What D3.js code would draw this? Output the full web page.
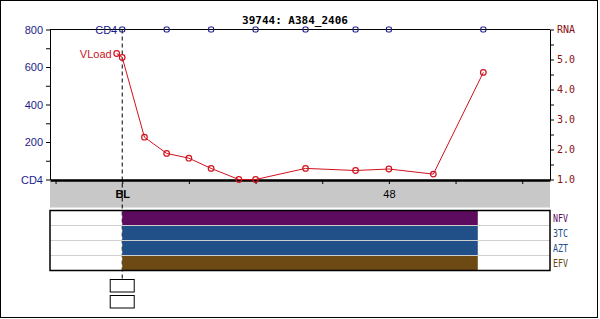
<!DOCTYPE html>
<html>
<head>
<meta charset="utf-8">
<script src="https://cdn.jsdelivr.net/npm/d3@7"></script>
<style>
  body { margin: 0; background: #fff; }
  text { font-family: "Liberation Sans", Arial, sans-serif; }
</style>
</head>
<body>
<div id="chart"></div>
<script>
// data (weeks from baseline)
const title = '39744: A384_2406'
const xTicks = [-12, 0, 12, 24, 36, 48, 60, 72]
const xTickLabels = {0: 'BL', 48: '48'}

const cd4Weeks = [0, 8, 16, 24, 33, 42, 48, 65]
const cd4Values = [800, 800, 800, 800, 800, 800, 800, 800]

const vlWeeks = [-1, 0, 4, 8, 12, 16, 21, 24, 33, 42, 48, 56, 65]
const vlValues = [5.2, 5.07, 2.41, 1.87, 1.71, 1.37, 1.0, 0.98, 1.37, 1.3, 1.35, 1.18, 4.57]

const drugNames = ['NFV', '3TC', 'AZT', 'EFV']
const drugStart = [0, 0, 0, 0]
const drugEnd = [64, 64, 64, 64]
const drugColors = ['#5c0b5e', '#214f87', '#214f87', '#6d4913']

const width = 600, height = 319
const plot = {left: 50, right: 550, top: 29.5, bottom: 179.5}

const svg = d3.select('#chart').append('svg')
    .attr('width', width)
    .attr('height', height)

// outer frame
svg.append('rect')
    .attr('x', 0.5).attr('y', 0.5)
    .attr('width', 597).attr('height', 317)
    .attr('fill', 'none').attr('stroke', '#000')

const x = d3.scaleLinear().domain([-13, 77]).range([plot.left, plot.right])
const yCd4 = d3.scaleLinear().domain([0, 800]).range([plot.bottom, plot.top])
const yRna = d3.scaleLinear().domain([1, 6]).range([plot.bottom, plot.top])

// title
svg.append('text')
    .attr('x', 295).attr('y', 24)
    .attr('text-anchor', 'middle')
    .style('font-family', '"DejaVu Sans Mono", monospace')
    .style('font-weight', 'bold')
    .style('font-size', '11px')
    .text(title)

// grey band under the x axis
svg.append('rect')
    .attr('x', plot.left).attr('y', plot.bottom)
    .attr('width', plot.right - plot.left).attr('height', 28)
    .attr('fill', '#c8c8c8')

// top frame line
svg.append('line')
    .attr('x1', plot.left).attr('x2', plot.right)
    .attr('y1', plot.top).attr('y2', plot.top)
    .attr('stroke', '#000')

// left axis (CD4)
const leftAxis = svg.append('g')
    .attr('transform', `translate(${plot.left},0)`)
    .call(d3.axisLeft(yCd4)
        .tickValues(d3.range(0, 801, 100))
        .tickSize(4).tickSizeOuter(0).tickPadding(3)
        .tickFormat(d => d % 200 ? '' : (d === 0 ? 'CD4' : d)))
leftAxis.select('.domain').attr('stroke', '#000')
leftAxis.selectAll('text')
    .attr('fill', '#1c1c8c')
    .style('font-family', '"Liberation Sans", Arial, sans-serif')
    .style('font-size', '11px')

// right axis (RNA)
const rightAxis = svg.append('g')
    .attr('transform', `translate(${plot.right},0)`)
    .call(d3.axisRight(yRna)
        .tickValues(d3.range(1, 6.01, 0.5))
        .tickSize(4).tickSizeOuter(0).tickPadding(3)
        .tickFormat(d => Number.isInteger(d) ? (d === 6 ? 'RNA' : d.toFixed(1)) : ''))
rightAxis.selectAll('text')
    .attr('fill', '#8a1010')
    .style('font-family', '"DejaVu Sans Mono", monospace')
    .style('font-size', '10px')

// bottom axis
const bottomAxis = svg.append('g')
    .attr('transform', `translate(0,${plot.bottom + 0.5})`)
    .call(d3.axisBottom(x)
        .tickValues(xTicks)
        .tickSize(4).tickPadding(6)
        .tickSizeOuter(0)
        .tickFormat(d => xTickLabels[d] || ''))
bottomAxis.select('.domain').attr('stroke-width', 2.5)
bottomAxis.selectAll('text')
    .attr('fill', '#000')
    .style('font-family', '"Liberation Sans", Arial, sans-serif')
    .style('font-size', '11px')
    .style('font-weight', d => d === 0 ? 'bold' : 'normal')

// baseline marker
svg.append('line')
    .attr('x1', x(0)).attr('x2', x(0))
    .attr('y1', plot.top).attr('y2', 279)
    .attr('stroke', '#000')
    .attr('stroke-dasharray', '4,3')

// viral load line
const vlData = vlWeeks.map((w, i) => ({x: w, y: vlValues[i]}))
const line = d3.line()
    .x(d => x(d.x))
    .y(d => yRna(Math.max(d.y, 1)))

svg.append('path')
    .datum(vlData)
    .attr('d', line)
    .attr('fill', 'none')
    .attr('stroke', '#d0121e')
    .attr('stroke-width', 1)

svg.selectAll('.vl-point')
    .data(vlData)
    .join('circle')
    .attr('class', 'vl-point')
    .attr('cx', d => x(d.x))
    .attr('cy', d => yRna(Math.max(d.y, 1)))
    .attr('r', 2.8)
    .attr('fill', 'none')
    .attr('stroke', '#d0121e')
    .attr('stroke-width', 1.2)

svg.append('text')
    .attr('x', x(vlWeeks[0]) - 5)
    .attr('y', yRna(vlValues[0]) + 4)
    .attr('text-anchor', 'end')
    .attr('fill', '#c8141e')
    .style('font-size', '11px')
    .text('VLoad')

// CD4 points
const cd4Data = cd4Weeks.map((w, i) => ({x: w, y: cd4Values[i]}))
svg.selectAll('.cd4-point')
    .data(cd4Data)
    .join('rect')
    .attr('class', 'cd4-point')
    .attr('x', d => x(d.x) - 2.5)
    .attr('y', d => yCd4(d.y) - 2.5)
    .attr('width', 5).attr('height', 5)
    .attr('rx', 1.5)
    .attr('fill', 'none')
    .attr('stroke', '#1c1c8c')
    .attr('stroke-width', 1.2)

svg.append('text')
    .attr('x', x(cd4Weeks[0]) - 5)
    .attr('y', yCd4(cd4Values[0]) + 4)
    .attr('text-anchor', 'end')
    .attr('fill', '#1c1c8c')
    .style('font-size', '11px')
    .text('CD4')

// drug table
const boxTop = 210.5, rowH = 15
const y = d3.scaleBand().domain(drugNames).range([boxTop, boxTop + rowH * drugNames.length])

svg.selectAll('.drug-bar')
    .data(drugNames)
    .join('rect')
    .attr('class', 'drug-bar')
    .attr('x', (d, i) => x(drugStart[i]))
    .attr('y', d => y(d))
    .attr('width', (d, i) => x(drugEnd[i]) - x(drugStart[i]))
    .attr('height', y.bandwidth())
    .attr('fill', (d, i) => drugColors[i])

svg.selectAll('.drug-sep')
    .data(drugNames.slice(1))
    .join('line')
    .attr('class', 'drug-sep')
    .attr('x1', plot.left).attr('x2', plot.right)
    .attr('y1', d => y(d)).attr('y2', d => y(d))
    .attr('stroke', '#cfcfcf')

svg.append('rect')
    .attr('x', plot.left).attr('y', boxTop)
    .attr('width', plot.right - plot.left).attr('height', rowH * drugNames.length)
    .attr('fill', 'none')
    .attr('stroke', '#000')
    .attr('stroke-width', 1.5)

svg.selectAll('.drug-label')
    .data(drugNames)
    .join('text')
    .attr('class', 'drug-label')
    .attr('x', plot.right + 3)
    .attr('y', d => y(d) + y.bandwidth() / 2 + 4)
    .attr('fill', (d, i) => drugColors[i])
    .attr('textLength', 15)
    .attr('lengthAdjust', 'spacingAndGlyphs')
    .style('font-family', '"DejaVu Sans Mono", monospace')
    .style('font-size', '11px')
    .text(d => d)

// empty boxes under baseline
svg.selectAll('.bl-box')
    .data([279.5, 295.5])
    .join('rect')
    .attr('class', 'bl-box')
    .attr('x', x(0) - 12).attr('y', d => d)
    .attr('width', 24).attr('height', 12.5)
    .attr('fill', '#fff')
    .attr('stroke', '#000')
</script>
</body>
</html>
